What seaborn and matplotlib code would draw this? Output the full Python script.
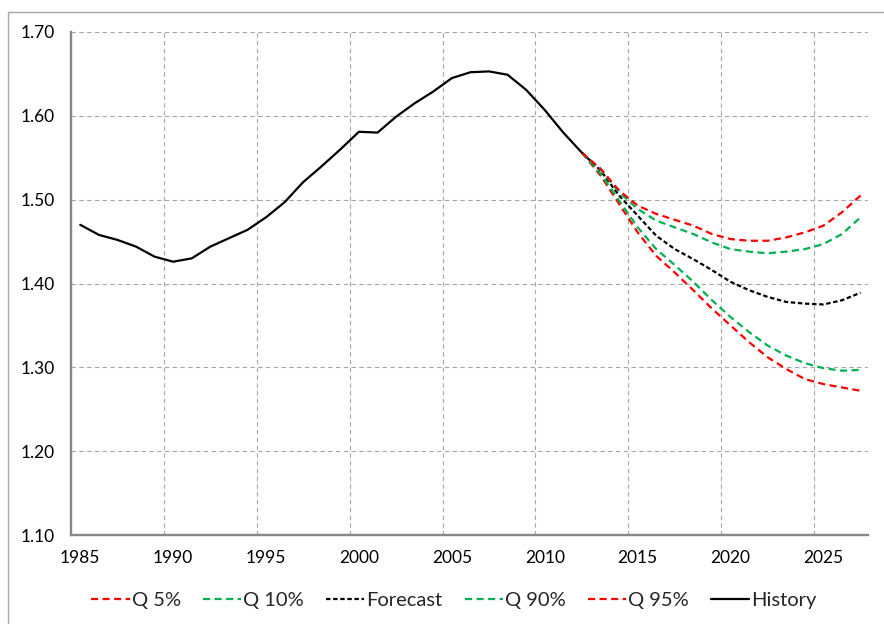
import numpy as np
import pandas as pd
import matplotlib
matplotlib.use("Agg")
import matplotlib.pyplot as plt
from matplotlib.patches import Rectangle
import seaborn as sns

# --- Data ---
hist_years = list(range(1985, 2013))
history = [1.470, 1.458, 1.452, 1.444, 1.432, 1.426, 1.430, 1.444, 1.454, 1.464,
           1.479, 1.497, 1.521, 1.540, 1.560, 1.581, 1.580, 1.599, 1.615, 1.629,
           1.645, 1.652, 1.653, 1.649, 1.631, 1.607, 1.580, 1.556]

fc_years = list(range(2012, 2028))
forecast = [1.556, 1.535, 1.505, 1.481, 1.457, 1.441, 1.429, 1.416,
            1.402, 1.392, 1.384, 1.378, 1.376, 1.375, 1.380, 1.389]
q5 = [1.556, 1.529, 1.495, 1.461, 1.433, 1.413, 1.392, 1.370,
      1.350, 1.330, 1.312, 1.298, 1.286, 1.280, 1.276, 1.272]
q10 = [1.556, 1.531, 1.499, 1.467, 1.441, 1.422, 1.402, 1.380,
       1.360, 1.342, 1.326, 1.314, 1.305, 1.299, 1.296, 1.297]
q90 = [1.556, 1.536, 1.509, 1.489, 1.475, 1.467, 1.459, 1.449,
       1.441, 1.438, 1.436, 1.438, 1.441, 1.447, 1.459, 1.479]
q95 = [1.556, 1.537, 1.511, 1.493, 1.483, 1.476, 1.469, 1.459,
       1.453, 1.451, 1.451, 1.455, 1.461, 1.469, 1.485, 1.505]

x_ticks = [1985, 1990, 1995, 2000, 2005, 2010, 2015, 2020, 2025]
y_ticks = [1.10, 1.20, 1.30, 1.40, 1.50, 1.60, 1.70]

RED = "#FF0000"
GREEN = "#00B050"
AXIS_GREY = "#868686"
GRID_GREY = "#A6A6A6"

# annual values sit in the middle of each year on the date axis
hist_x = np.array(hist_years) + 0.5
fc_x = np.array(fc_years) + 0.5

sns.set_style("white")
plt.rcParams["font.family"] = ["Lato", "DejaVu Sans"]

fig = plt.figure(figsize=(8.84, 6.24), dpi=100)
ax = fig.add_axes([71 / 884, 1 - 535 / 624, (868 - 71) / 884, (535 - 32) / 624])

lw = 1.6
long_dash = (0, (3.2, 2.0))
short_dash = (0, (2.0, 1.2))

series = [
    ("Q 5%", q5, RED, long_dash),
    ("Q 10%", q10, GREEN, long_dash),
    ("Forecast", forecast, "black", short_dash),
    ("Q 90%", q90, GREEN, long_dash),
    ("Q 95%", q95, RED, long_dash),
]
for label, vals, color, ls in series:
    sns.lineplot(x=fc_x, y=vals, ax=ax, color=color, linewidth=lw,
                 linestyle=ls, label=label)

sns.lineplot(x=hist_x, y=history, ax=ax, color="black", linewidth=lw,
             label="History")

ax.set_xlim(1985, 2027.9)
ax.set_ylim(1.10, 1.70)
# major ticks mark the start of each year; labels sit mid-year (date axis)
ax.set_xticks(x_ticks, labels=[])
ax.set_xticks([x + 0.5 for x in x_ticks], labels=[str(x) for x in x_ticks],
              minor=True)
ax.set_yticks(y_ticks)
ax.set_yticklabels([f"{v:.2f}" for v in y_ticks])
ax.set_xlabel("")
ax.set_ylabel("")

ax.grid(True, which="major", color=GRID_GREY, linestyle=(0, (4, 3)), linewidth=0.8)
ax.set_axisbelow(True)
for side in ["top", "right"]:
    ax.spines[side].set_visible(False)
for side in ["left", "bottom"]:
    ax.spines[side].set_color(AXIS_GREY)
    ax.spines[side].set_linewidth(1.7)
ax.tick_params(axis="both", direction="out", length=4.5, width=1.5,
               color=AXIS_GREY, labelsize=12.5, labelcolor="black")
ax.tick_params(axis="x", which="minor", length=0, pad=10.5,
               labelsize=12.5, labelcolor="black")
ax.tick_params(axis="y", pad=7)

leg = ax.legend(loc="center", ncol=6, frameon=False, fontsize=14.5,
                handlelength=1.9, handletextpad=0.1, columnspacing=1.1)
leg.set_bbox_to_anchor((0.5 * (90 + 818) / 884, (624 - 600) / 624),
                       transform=fig.transFigure)

# light frame around the chart area
fig.patches.append(Rectangle((8 / 884, -0.05), 1.2, 1 - 12 / 624 + 0.05,
                             transform=fig.transFigure, fill=False,
                             edgecolor="#A6A6A6", linewidth=1.0))

fig.savefig("out.png", dpi=100)
